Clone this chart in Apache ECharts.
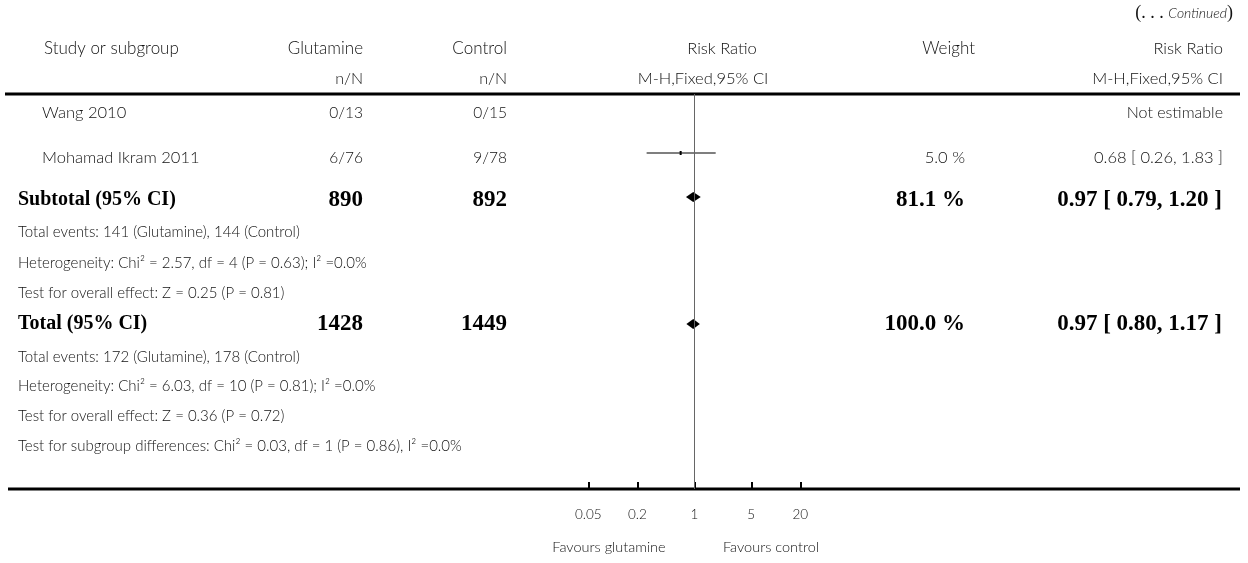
<!DOCTYPE html>
<html>
<head>
<meta charset="utf-8">
<script src="https://cdn.jsdelivr.net/npm/echarts@6/dist/echarts.min.js"></script>
<style>
html,body{margin:0;padding:0;background:#fff;}
#chart{width:1248px;height:563px;}
</style>
</head>
<body>
<div id="chart"></div>
<script>
// ---------- DATA ----------
const studyNames = ['Wang 2010', 'Mohamad Ikram 2011'];
const studyGlutamine = ['0/13', '6/76'];
const studyControl = ['0/15', '9/78'];
const studyWeight = [null, 5.0];
const studyRR = [null, 0.68];
const studyLow = [null, 0.26];
const studyHigh = [null, 1.83];

const pooledNames = ['Subtotal (95% CI)', 'Total (95% CI)'];
const pooledGlutamine = [890, 1428];
const pooledControl = [892, 1449];
const pooledWeight = [81.1, 100.0];
const pooledRR = [0.97, 0.97];
const pooledLow = [0.79, 0.80];
const pooledHigh = [1.20, 1.17];

const subtotalNotes = [
  'Total events: 141 (Glutamine), 144 (Control)',
  'Heterogeneity: Chi\u00B2 = 2.57, df = 4 (P = 0.63); I\u00B2 =0.0%',
  'Test for overall effect: Z = 0.25 (P = 0.81)'
];
const totalNotes = [
  'Total events: 172 (Glutamine), 178 (Control)',
  'Heterogeneity: Chi\u00B2 = 6.03, df = 10 (P = 0.81); I\u00B2 =0.0%',
  'Test for overall effect: Z = 0.36 (P = 0.72)',
  'Test for subgroup differences: Chi\u00B2 = 0.03, df = 1 (P = 0.86), I\u00B2 =0.0%'
];
const headerTop = ['Study or subgroup', 'Glutamine', 'Control', 'Risk Ratio', 'Weight', 'Risk Ratio'];
const headerBottom = ['', 'n/N', 'n/N', 'M-H,Fixed,95% CI', '', 'M-H,Fixed,95% CI'];
const tickLabels = [0.05, 0.2, 1, 5, 20];
const favourLabels = ['Favours glutamine', 'Favours control'];

// ---------- LAYOUT ----------
const L = {
  gridTop: 94, gridBottomY: 489,
  colNotes: 18, colStudy: 42, colHead: 44, colGlut: 363, colCtrl: 507,
  colWeight: 965, colWeightHead: 975, colRR: 1223,
  headY1: 49, headY2: 79,
  studyTextY: [113, 158], studyMarkY: [null, 153],
  pooledTextY: [200, 324], pooledMarkY: [197, 324],
  subNotesY: [232, 263, 293], totNotesY: [357, 386, 416, 446],
  tickLabelY: 515, favourY: 547, favourX: [609, 771]
};
const LIGHT = 'Lato';
const SERIF = '"Liberation Serif", "Times New Roman", serif';
const lightStyle = (size) => ({ fontFamily: LIGHT, fontWeight: 300, fontSize: size, fill: '#111' });
const boldLabel = { fontFamily: SERIF, fontWeight: 'bold', fontSize: 20, fill: '#000' };
const boldNum = { fontFamily: SERIF, fontWeight: 'bold', fontSize: 23, fill: '#000' };

const log10 = Math.log10;
const chart = echarts.init(document.getElementById('chart'), null, { renderer: 'canvas' });

// x axis in log10 space
const xMin = -2, xMax = 2;
const pxPerDecade = 81.5;
const oneX = 694.3;
const gridLeft = oneX + xMin * pxPerDecade;
const gridRight = 1248 - (oneX + xMax * pxPerDecade);

function yv(py) { return py - L.gridTop; }

const ciData = [];
studyRR.forEach((v, i) => {
  if (v != null) ciData.push([log10(studyLow[i]), log10(studyHigh[i]), log10(v), yv(L.studyMarkY[i]), studyWeight[i]]);
});
const diamondData = pooledRR.map((v, i) => [log10(pooledLow[i]), log10(pooledHigh[i]), log10(v), yv(L.pooledMarkY[i])]);

// ---------- TEXT ----------
const g = [];
function txt(x, y, text, align, style) {
  g.push({ type: 'text', x: x, y: y, silent: true,
    style: Object.assign({ text: text, textAlign: align, textVerticalAlign: 'middle' }, style) });
}
g.push({ type: 'text', x: 1233, y: 13, silent: true, style: {
  text: '{p|(. . . }{i|Continued}{p|)}', textAlign: 'right', textVerticalAlign: 'middle',
  rich: { p: { fontFamily: SERIF, fontSize: 18, fill: '#111' }, i: { fontFamily: LIGHT, fontStyle: 'italic', fontWeight: 300, fontSize: 14, fill: '#111' } }
}});
// headers
txt(L.colHead, L.headY1, headerTop[0], 'left', lightStyle(17));
txt(L.colGlut, L.headY1, headerTop[1], 'right', lightStyle(17));
txt(L.colCtrl, L.headY1, headerTop[2], 'right', lightStyle(17));
txt(722, L.headY1, headerTop[3], 'center', lightStyle(16.5));
txt(L.colWeightHead, L.headY1, headerTop[4], 'right', lightStyle(17));
txt(L.colRR, L.headY1, headerTop[5], 'right', lightStyle(16.5));
txt(L.colGlut, L.headY2, headerBottom[1], 'right', lightStyle(16));
txt(L.colCtrl, L.headY2, headerBottom[2], 'right', lightStyle(16));
txt(703, L.headY2, headerBottom[3], 'center', lightStyle(16.5));
txt(L.colRR, L.headY2, headerBottom[5], 'right', lightStyle(16.5));
// studies
studyNames.forEach((n, i) => {
  const y = L.studyTextY[i];
  txt(L.colStudy, y, n, 'left', lightStyle(16.5));
  txt(L.colGlut, y, studyGlutamine[i], 'right', lightStyle(15.5));
  txt(L.colCtrl, y, studyControl[i], 'right', lightStyle(15.5));
  if (studyRR[i] == null) {
    txt(L.colRR, y, 'Not estimable', 'right', lightStyle(16));
  } else {
    txt(L.colWeight, y, studyWeight[i].toFixed(1) + ' %', 'right', lightStyle(16.5));
    txt(L.colRR, y, studyRR[i].toFixed(2) + ' [ ' + studyLow[i].toFixed(2) + ', ' + studyHigh[i].toFixed(2) + ' ]', 'right', lightStyle(16.5));
  }
});
// pooled
pooledNames.forEach((n, i) => {
  const y = L.pooledTextY[i];
  txt(L.colNotes, y, n, 'left', boldLabel);
  txt(L.colGlut, y, String(pooledGlutamine[i]), 'right', boldNum);
  txt(L.colCtrl, y, String(pooledControl[i]), 'right', boldNum);
  txt(L.colWeight, y, pooledWeight[i].toFixed(1) + ' %', 'right', boldNum);
  txt(L.colRR - 1, y, pooledRR[i].toFixed(2) + ' [ ' + pooledLow[i].toFixed(2) + ', ' + pooledHigh[i].toFixed(2) + ' ]', 'right', boldNum);
});
subtotalNotes.forEach((t, i) => txt(L.colNotes, L.subNotesY[i], t, 'left', lightStyle(15)));
totalNotes.forEach((t, i) => txt(L.colNotes, L.totNotesY[i], t, 'left', lightStyle(15)));
favourLabels.forEach((t, i) => txt(L.favourX[i], L.favourY, t, 'center', lightStyle(14.5)));
// table rules
g.push({ type: 'line', silent: true, shape: { x1: 5, y1: L.gridTop, x2: 1240, y2: L.gridTop }, style: { stroke: '#000', lineWidth: 3 } });
g.push({ type: 'line', silent: true, shape: { x1: 8, y1: L.gridBottomY, x2: 1240, y2: L.gridBottomY }, style: { stroke: '#000', lineWidth: 3 } });

const option = {
  animation: false,
  backgroundColor: '#fff',
  grid: { left: gridLeft, right: gridRight, top: L.gridTop, bottom: 563 - L.gridBottomY },
  xAxis: {
    type: 'value', min: xMin, max: xMax, position: 'bottom',
    splitLine: { show: false },
    axisLine: { show: false, onZero: false },
    axisTick: { show: true, inside: true, length: 7, lineStyle: { color: '#000', width: 2 },
      customValues: tickLabels.map(log10) },
    axisLabel: { show: true, margin: 19, fontFamily: LIGHT, fontWeight: 300, fontSize: 13.5, color: '#111',
      customValues: tickLabels.map(log10),
      formatter: function (v) {
        let best = tickLabels[0];
        tickLabels.forEach(t => { if (Math.abs(log10(t) - v) < Math.abs(log10(best) - v)) best = t; });
        return String(best);
      } }
  },
  yAxis: { type: 'value', inverse: true, min: 0, max: L.gridBottomY - L.gridTop, show: false },
  graphic: g,
  series: [
    {
      type: 'custom', name: 'studies', data: ciData, silent: true,
      encode: { x: [0, 1, 2], y: 3 },
      renderItem: function (params, api) {
        const y = api.value(3);
        const p1 = api.coord([api.value(0), y]);
        const p2 = api.coord([api.value(1), y]);
        const pm = api.coord([api.value(2), y]);
        const side = Math.max(1.5, Math.sqrt(api.value(4)) * 0.9);
        return { type: 'group', children: [
          { type: 'line', shape: { x1: p1[0], y1: p1[1], x2: p2[0], y2: p2[1] }, style: { stroke: '#555', lineWidth: 1.5 } },
          { type: 'rect', shape: { x: pm[0] - side / 2, y: pm[1] - side, width: side, height: side * 2 }, style: { fill: '#000' } }
        ]};
      },
      markLine: {
        silent: true, symbol: ['none', 'none'], label: { show: false },
        lineStyle: { color: '#666', width: 1, type: 'solid' },
        data: [{ xAxis: log10(1) }]
      }
    },
    {
      type: 'custom', name: 'pooled', data: diamondData, silent: true,
      encode: { x: [0, 1, 2], y: 3 },
      renderItem: function (params, api) {
        const y = api.value(3);
        const a = api.coord([api.value(0), y]);
        const b = api.coord([api.value(1), y]);
        const c = api.coord([api.value(2), y]);
        const h = 5;
        return { type: 'polygon', shape: { points: [[a[0], a[1]], [c[0], c[1] - h], [b[0], b[1]], [c[0], c[1] + h]] }, style: { fill: '#000' } };
      }
    }
  ]
};
chart.setOption(option);
</script>
</body>
</html>
